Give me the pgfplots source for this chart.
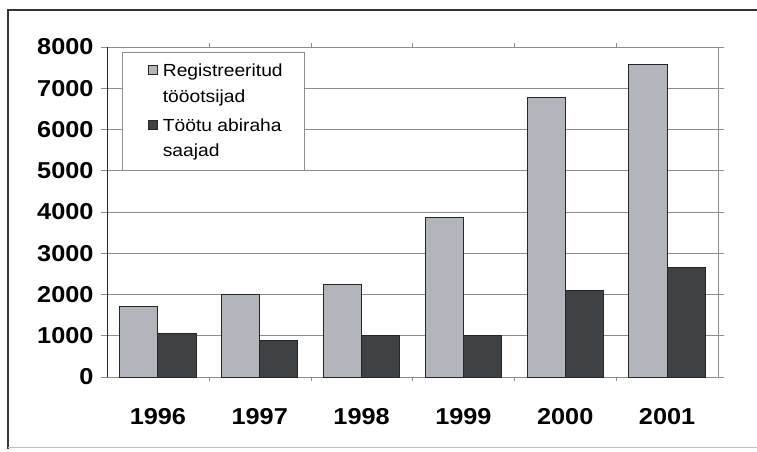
\documentclass[border=0pt]{standalone}
\usepackage{pgfplots}
\pgfplotsset{compat=1.18}
\usepackage{fontspec}
\setmainfont{Liberation Sans}[FakeStretch=1.1]
\definecolor{barlight}{HTML}{B2B5BC}
\definecolor{bardark}{HTML}{3E4245}
\definecolor{gridc}{HTML}{8C8C8C}
\begin{document}
\begin{tikzpicture}[x=1pt,y=1pt]
\path[use as bounding box] (0,0) rectangle (757,451);
\draw[line width=1.2pt,black!80] (8,2) -- (8,441) -- (757,441);
\draw[line width=0.8pt,black!25] (8,4) -- (757,4);
\begin{axis}[
  at={(107pt,74pt)}, anchor=south west,
  width=611pt, height=330pt, scale only axis,
  ybar, bar width=0.375,
  xmin=-0.5, xmax=5.5, ymin=0, ymax=8000,
  xtick={0,1,2,3,4,5},
  xticklabels={1996,1997,1998,1999,2000,2001},
  ytick={0,1000,...,8000},
  /pgf/number format/assume math mode=true,
  /pgf/number format/1000 sep={},
  ticklabel style={font=\fontsize{23}{23}\selectfont\bfseries},
  xticklabel style={yshift=-22pt},
  yticklabel style={xshift=-4pt},
  tick align=outside,
  xtick style={draw=none},
  minor xtick={0.5,1.5,...,4.5},
  minor tick length=4pt,
  minor x tick style={draw=gridc},
  major tick length=6pt,
  ytick style={draw=gridc, line width=0.8pt},
  ymajorgrids,
  major grid style={draw=gridc, line width=0.8pt},
  axis line style={draw=gridc, line width=0.8pt},
  legend style={
    at={(0.024,0.986)}, anchor=north west,
    draw=gridc, line width=0.6pt, fill=white,
    font=\fontsize{17.5}{25.5}\selectfont,
    cells={align=left, anchor=west},
    inner xsep=4pt, inner ysep=10pt,
    row sep=11pt,
  },
  legend image code/.code={\path (0pt,0pt) (34pt,0pt); \draw[#1,line width=0.8pt] (22pt,9pt) rectangle (31pt,18pt);},
  after end axis/.code={\draw[black!85,line width=1pt] (rel axis cs:0,0) -- (rel axis cs:0,1);},
]
\addplot[fill=barlight, draw=black!85, line width=0.9pt, bar shift=-0.1875] coordinates {
  (0,1718) (1,2002) (2,2238) (3,3864) (4,6767) (5,7585)};
\addlegendentry{Registreeritud\hspace*{16pt}\\tööotsijad}
\addplot[fill=bardark, draw=black!85, line width=0.9pt, bar shift=0.1875] coordinates {
  (0,1049) (1,893) (2,1007) (3,1007) (4,2107) (5,2650)};
\addlegendentry{Töötu abiraha\\saajad}
\end{axis}
\end{tikzpicture}
\end{document}
